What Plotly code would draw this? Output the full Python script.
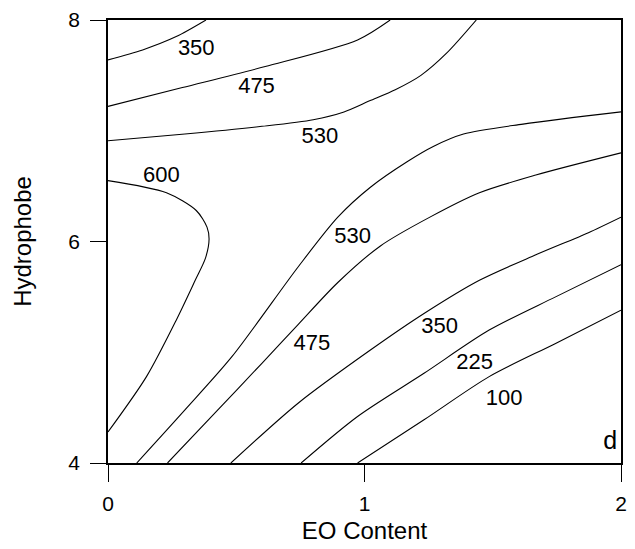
import plotly.graph_objects as go

# Contour lines (EO Content, Hydrophobe)
c350_top_x = [0, 0.135, 0.266, 0.382]
c350_top_y = [7.64, 7.73, 7.85, 8.0]
c475_top_x = [0, 0.29, 0.613, 0.973, 1.10]
c475_top_y = [7.22, 7.39, 7.58, 7.82, 8.0]
c530_top_x = [0, 0.30, 0.60, 0.80, 0.92, 1.02, 1.12, 1.22, 1.32, 1.436]
c530_top_y = [6.91, 6.97, 7.04, 7.10, 7.17, 7.27, 7.37, 7.50, 7.70, 8.0]
c600_x = [0, 0.228, 0.344, 0.386, 0.394, 0.38, 0.34, 0.266, 0.15, 0]
c600_y = [6.55, 6.44, 6.28, 6.13, 6.02, 5.85, 5.65, 5.29, 4.78, 4.28]
c530_low_x = [0.112, 0.30, 0.483, 0.741, 0.896, 1.023, 1.166, 1.27, 1.386, 1.618, 2.0]
c530_low_y = [4.0, 4.48, 4.96, 5.77, 6.22, 6.49, 6.72, 6.86, 6.97, 7.06, 7.17]
c475_low_x = [0.232, 0.42, 0.60, 0.741, 0.896, 1.062, 1.255, 1.448, 1.668, 2.0]
c475_low_y = [4.0, 4.46, 4.90, 5.25, 5.63, 5.96, 6.22, 6.44, 6.60, 6.80]
c350_low_x = [0.479, 0.741, 1.023, 1.232, 1.448, 1.668, 1.873, 2.0]
c350_low_y = [4.0, 4.54, 5.02, 5.35, 5.65, 5.88, 6.08, 6.22]
c225_x = [0.753, 0.973, 1.232, 1.486, 1.745, 2.0]
c225_y = [4.0, 4.42, 4.81, 5.20, 5.50, 5.79]
c100_x = [0.973, 1.232, 1.486, 1.745, 2.0]
c100_y = [4.0, 4.39, 4.78, 5.08, 5.38]

label_text = ["350", "475", "530", "600", "530", "475", "350", "225", "100"]
label_x = [0.344, 0.579, 0.826, 0.208, 0.954, 0.795, 1.293, 1.429, 1.544]
label_y = [7.73, 7.39, 6.94, 6.59, 6.04, 5.07, 5.22, 4.90, 4.57]

panel_text = ["d"]
panel_x = [1.958]
panel_y = [4.18]

x_ticks = [0, 1, 2]
y_ticks = [4, 6, 8]

FONT = "Arial, Liberation Sans, Helvetica, sans-serif"

fig = go.Figure()
lines = [
    (c350_top_x, c350_top_y), (c475_top_x, c475_top_y), (c530_top_x, c530_top_y),
    (c600_x, c600_y), (c530_low_x, c530_low_y), (c475_low_x, c475_low_y),
    (c350_low_x, c350_low_y), (c225_x, c225_y), (c100_x, c100_y),
]
for xs, ys in lines:
    fig.add_trace(go.Scatter(x=xs, y=ys, mode="lines",
                             line=dict(color="black", width=1.1, shape="spline", smoothing=0.8),
                             hoverinfo="skip", showlegend=False, cliponaxis=True))

fig.add_trace(go.Scatter(x=label_x, y=label_y, mode="text", text=label_text,
                         textfont=dict(family=FONT, size=22, color="black"),
                         showlegend=False, hoverinfo="skip"))
fig.add_trace(go.Scatter(x=panel_x, y=panel_y, mode="text", text=panel_text,
                         textfont=dict(family=FONT, size=25, color="black"),
                         showlegend=False, hoverinfo="skip"))

fig.update_layout(
    width=635, height=549,
    margin=dict(l=108, r=8, t=20, b=86),
    paper_bgcolor="white", plot_bgcolor="white",
    font=dict(family=FONT, color="black"),
    showlegend=False,
)
fig.update_xaxes(
    range=[0, 2], tickvals=x_ticks, ticktext=[str(v) for v in x_ticks],
    showgrid=False, zeroline=False, showline=True, mirror=True,
    linecolor="black", linewidth=1.5,
    ticks="outside", ticklen=17, tickwidth=1.2, tickcolor="black",
    tickfont=dict(size=21, family=FONT), ticklabelstandoff=4,
    title=dict(text="EO Content", font=dict(size=24, family=FONT), standoff=8),
)
fig.update_yaxes(
    range=[4, 8], tickvals=y_ticks, ticktext=[str(v) for v in y_ticks],
    showgrid=False, zeroline=False, showline=True, mirror=True,
    linecolor="black", linewidth=1.5,
    ticks="outside", ticklen=16, tickwidth=1.2, tickcolor="black",
    tickfont=dict(size=21, family=FONT), ticklabelstandoff=6,
    title=dict(text="Hydrophobe", font=dict(size=24, family=FONT), standoff=30),
)

fig.write_html("out.html")
